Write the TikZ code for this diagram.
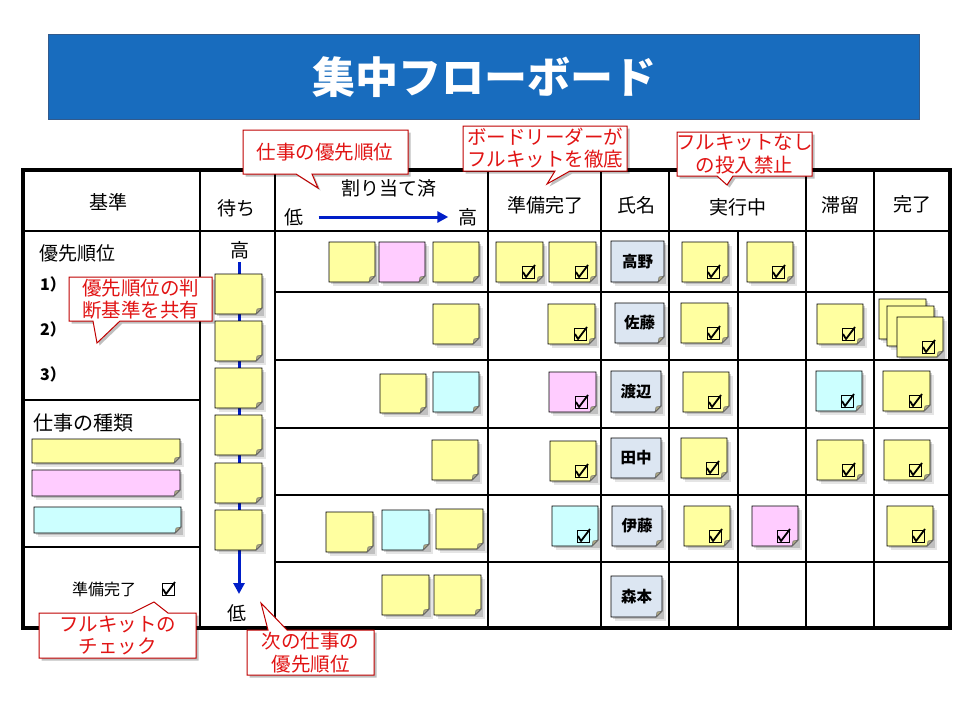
\documentclass[tikz,border=0pt]{standalone}
\usepackage{fontspec}
\setmainfont{Noto Sans CJK JP}
\usetikzlibrary{arrows.meta}
\definecolor{titleblue}{RGB}{24,108,190}
\definecolor{titleedge}{RGB}{50,90,140}
\definecolor{ny}{RGB}{255,255,160}
\definecolor{np}{RGB}{255,204,255}
\definecolor{nc}{RGB}{204,255,255}
\definecolor{nn}{RGB}{220,230,242}
\definecolor{cred}{RGB}{192,0,0}
\definecolor{tred}{RGB}{225,20,20}
\definecolor{arrblue}{RGB}{0,30,200}
\definecolor{foldc}{RGB}{170,165,130}
\newcommand{\fsz}[1]{\fontsize{#1}{#1}\selectfont}
% sticky note: name, x0, y0, x1, y1, colour
\newcommand{\snote}[6]{%
  \fill[black,opacity=0.10] ({#2+4},{#3+4}) rectangle ({#4+4},{#5+4});
  \fill[black,opacity=0.16] ({#2+2},{#3+2}) rectangle ({#4+2},{#5+2});
  \filldraw[fill=#6,draw=black,line width=0.8pt] (#2,#3) -- (#4,#3) -- (#4,{#5-6}) -- ({#4-6},#5) -- (#2,#5) -- cycle;
  \filldraw[fill=foldc,draw=black!60,line width=0.4pt] (#4,{#5-6}) -- ({#4-6},#5) -- ({#4-5},{#5-5}) -- cycle;
  \coordinate (#1) at ({(#2+#4)/2},{(#3+#5)/2});
}
% check box at bottom right of a note: x1, y1
\newcommand{\chk}[2]{%
  \draw[line width=0.9pt] ({#1-21},{#2-16}) rectangle ({#1-9},{#2-4});
  \draw[line width=1.8pt,line join=round] ({#1-20},{#2-10}) -- ({#1-17},{#2-5}) -- ({#1-8},{#2-17});
}
\tikzset{
  hdr/.style={font=\fsz{19}, inner sep=0pt},
  grid/.style={line width=1.2pt},
  callbox/.style={fill=white, draw=cred, line width=1pt, line join=miter,
    preaction={fill=black, opacity=0.25, transform canvas={shift={(2.5pt,-2.5pt)}}}},
  ctext/.style={font=\fsz{19.5}, text=tred, align=center, inner sep=0pt},
  nametxt/.style={font=\bfseries\fsz{15.5}, inner sep=0pt},
  barrow/.style={draw=arrblue, line width=3pt, -{Triangle[width=11pt,length=11pt]}},
}
\begin{document}
\begin{tikzpicture}[x=1pt,y=-1pt]
\useasboundingbox (0,0) rectangle (960,720);
\fill[white] (0,0) rectangle (960,720);
% title
\filldraw[fill=titleblue, draw=titleedge, line width=1pt] (48,34) rectangle (919,119);
\node[font=\bfseries\fsz{43}, text=white] (title) at (484,77) {集中フローボード};
% table grid
\foreach \xx in {200,275,488,601,669,806,874} {\draw[grid] (\xx,170) -- (\xx,628);}
\draw[grid] (738,231) -- (738,628);
\draw[grid] (23,231) -- (950,231);
\foreach \yy in {292,360,428,495,562} {\draw[grid] (275,\yy) -- (950,\yy);}
\draw[grid] (23,400) -- (200,400);
\draw[grid] (23,547) -- (200,547);
\draw[line width=3.2pt] (23,170) rectangle (950,628);
% header texts
\node[hdr] (h1) at (108,202) {基準};
\node[hdr] (h2) at (236,208) {待ち};
\node[hdr] (h3) at (389,188) {割り当て済};
\node[hdr] (lo) at (294,217) {低};
\node[hdr] (hi) at (468,217) {高};
\draw[barrow] ([xshift=15pt]lo.east) -- ([xshift=-10pt]hi.west);
\node[hdr] (h4) at (545,205) {準備完了};
\node[hdr] (h5) at (636,205) {氏名};
\node[hdr] (h6) at (738,207) {実行中};
\node[hdr] (h7) at (840,205) {滞留};
\node[hdr] (h8) at (912,204) {完了};
% left column
\node[hdr, anchor=west] (l1) at (39,253) {優先順位};
\node[font=\bfseries\fsz{16}, anchor=west, inner sep=0pt] (p1) at (40,284) {1）};
\node[font=\bfseries\fsz{16}, anchor=west, inner sep=0pt] (p2) at (40,329) {2）};
\node[font=\bfseries\fsz{16}, anchor=west, inner sep=0pt] (p3) at (40,374) {3）};
\node[font=\fsz{20}, anchor=west, inner sep=0pt] (l2) at (33,423) {仕事の種類};
\snote{bary}{32}{439}{180}{463}{ny}
\snote{barp}{32}{470}{180}{496}{np}
\snote{barc}{34}{507}{181}{533}{nc}
\node[font=\fsz{16}, inner sep=0pt] (l3) at (104,589) {準備完了};
\chk{183}{599}
% waiting column
\node[hdr] (wh) at (240,250) {高};
\node[hdr] (wl) at (237,613) {低};
\coordinate (vtop) at (239,262);
\coordinate (vbot) at (239,594);
\draw[barrow] (vtop) -- (vbot);
\foreach \yy [count=\i] in {274,321,368,415,463,510} {\snote{w\i}{215}{\yy}{262}{\yy+40}{ny}}
% row 1
\snote{a11}{329}{242}{375}{282}{ny}
\snote{a12}{379}{242}{425}{282}{np}
\snote{a13}{433}{242}{479}{282}{ny}
\snote{r11}{496}{242}{543}{282}{ny}\chk{543}{282}
\snote{r12}{549}{242}{596}{282}{ny}\chk{596}{282}
\snote{n1}{611}{241}{664}{282}{nn}\node[nametxt] at (n1) {高野};
\snote{e11}{682}{242}{728}{282}{ny}\chk{728}{282}
\snote{e12}{747}{242}{793}{282}{ny}\chk{793}{282}
% row 2
\snote{a21}{433}{304}{479}{344}{ny}
\snote{r21}{548}{304}{595}{344}{ny}\chk{595}{344}
\snote{n2}{615}{303}{664}{343}{nn}\node[nametxt] at (n2) {佐藤};
\snote{e21}{681}{303}{728}{343}{ny}\chk{728}{343}
\snote{s21}{817}{304}{863}{344}{ny}\chk{863}{344}
\snote{d21}{879}{299}{926}{339}{ny}
\snote{d22}{887}{306}{934}{346}{ny}
\snote{d23}{897}{317}{943}{357}{ny}\chk{943}{357}
% row 3
\snote{a31}{380}{374}{426}{413}{ny}
\snote{a32}{433}{372}{479}{412}{nc}
\snote{r31}{549}{372}{596}{412}{np}\chk{596}{412}
\snote{n3}{611}{371}{661}{412}{nn}\node[nametxt] at (n3) {渡辺};
\snote{e31}{683}{372}{729}{412}{ny}\chk{729}{412}
\snote{s31}{816}{371}{862}{411}{nc}\chk{862}{411}
\snote{d31}{883}{371}{930}{411}{ny}\chk{930}{411}
% row 4
\snote{a41}{432}{440}{478}{480}{ny}
\snote{r41}{550}{441}{596}{481}{ny}\chk{596}{481}
\snote{n4}{611}{438}{661}{478}{nn}\node[nametxt] at (n4) {田中};
\snote{e41}{681}{438}{727}{478}{ny}\chk{727}{478}
\snote{s41}{817}{440}{863}{480}{ny}\chk{863}{480}
\snote{d41}{884}{440}{930}{480}{ny}\chk{930}{480}
% row 5
\snote{a51}{326}{512}{373}{552}{ny}
\snote{a52}{382}{510}{429}{550}{nc}
\snote{a53}{436}{509}{483}{549}{ny}
\snote{r51}{552}{506}{598}{546}{nc}\chk{598}{546}
\snote{n5}{612}{506}{662}{546}{nn}\node[nametxt] at (n5) {伊藤};
\snote{e51}{684}{506}{730}{546}{ny}\chk{730}{546}
\snote{e52}{752}{506}{798}{546}{np}\chk{798}{546}
\snote{d51}{887}{506}{933}{546}{ny}\chk{933}{546}
% row 6
\snote{a61}{382}{575}{429}{615}{ny}
\snote{a62}{434}{575}{481}{615}{ny}
\snote{n6}{611}{576}{662}{617}{nn}\node[nametxt] at (n6) {森本};
% callouts
\path[callbox] (243,130) -- (408,130) -- (408,174) -- (312,174) -- (318,188) -- (296,174) -- (243,174) -- cycle;
\node[ctext] (c1) at (325,152) {仕事の優先順位};
\path[callbox] (463,126) -- (627,126) -- (627,171) -- (570,171) -- (547,184) -- (555,171) -- (463,171) -- cycle;
\node[ctext] (c2) at (545,148) {ボードリーダーが\\[3pt]フルキットを徹底};
\path[callbox] (677,132) -- (812,132) -- (812,176) -- (733,176) -- (727,185) -- (717,176) -- (677,176) -- cycle;
\node[ctext] (c3) at (744.5,154) {フルキットなし\\[3pt]の投入禁止};
\path[callbox] (69,277) -- (212,277) -- (212,321) -- (120,321) -- (97,343) -- (93,321) -- (69,321) -- cycle;
\node[ctext] (c4) at (140.5,299) {優先順位の判\\[3pt]断基準を共有};
\path[callbox] (39,613) -- (132,613) -- (154,602) -- (168,613) -- (196,613) -- (196,658) -- (39,658) -- cycle;
\node[ctext] (c5) at (117.5,635.5) {フルキットの\\[3pt]チェック};
\path[callbox] (247,630) -- (268,630) -- (261,603) -- (287,630) -- (374,630) -- (374,675) -- (247,675) -- cycle;
\node[ctext] (c6) at (310.5,652.5) {次の仕事の\\[3pt]優先順位};
\end{tikzpicture}
\end{document}
